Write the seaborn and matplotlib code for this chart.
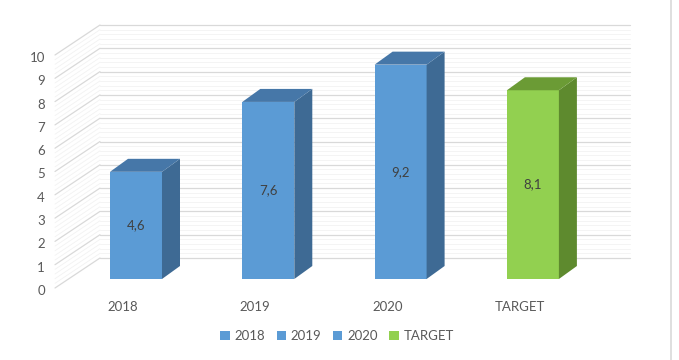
"""
plot.py - Excel-style 3D column chart (2018 / 2019 / 2020 / TARGET).
"""

import matplotlib
matplotlib.use("Agg")
import matplotlib.pyplot as plt
from matplotlib.patches import Polygon, Patch
from matplotlib.lines import Line2D
import numpy as np
import pandas as pd
import seaborn as sns

categories = ["2018", "2019", "2020", "TARGET"]
values = [4.6, 7.6, 9.2, 8.1]
value_labels = ["4,6", "7,6", "9,2", "8,1"]
y_ticks = list(range(0, 11))

FRONT = {"2018": "#5B9BD5", "2019": "#5B9BD5", "2020": "#5B9BD5", "TARGET": "#92D050"}
SIDE = {"2018": "#3E6A94", "2019": "#3E6A94", "2020": "#3E6A94", "TARGET": "#5E8A2E"}
TOP = {"2018": "#4677A8", "2019": "#4677A8", "2020": "#4677A8", "TARGET": "#6B9B35"}
GRID = "#d9d9d9"
TXT = "#595959"

sns.set_theme(style="white")
plt.rcParams["font.family"] = ["Lato", "DejaVu Sans"]

W, H, DPI = 679, 360, 100
fig = plt.figure(figsize=(W / DPI, H / DPI), dpi=DPI)
ax = fig.add_axes([0, 0, 1, 1])

# pixel scale of the bar plane
PX_X = 132.3   # px per category
PX_Y = 23.3    # px per unit
X0, Y0 = 136, 81  # px of category 0 / value 0 (from left / bottom)


def dx(px):
    return px / PX_X


def dy(px):
    return px / PX_Y


BAR_DX, BAR_DY = dx(18), dy(13)       # bar depth
FRONT_DX, FRONT_DY = dx(-13), dy(-9)  # front floor edge relative to bar plane
WALL_DX, WALL_DY = dx(32), dy(21)     # back wall relative to bar plane
WALL_L, WALL_R = dx(100 - X0), dx(630 - X0)

# gridlines: minor + major, back wall and left side wall
for v in np.arange(0, 10.01, 0.2):
    major = abs(v - round(v)) < 1e-6
    c = GRID if major else "#f2f2f2"
    lw = 0.9 if major else 0.6
    ax.plot([WALL_L, WALL_R], [v + WALL_DY, v + WALL_DY], color=c, lw=lw, zorder=1)
    ax.plot([WALL_L - (WALL_DX - FRONT_DX), WALL_L],
            [v + FRONT_DY, v + WALL_DY], color=c, lw=lw, zorder=1)

for t in y_ticks:
    ax.text(WALL_L - (WALL_DX - FRONT_DX) - dx(10), t + FRONT_DY - dy(3), str(t),
            ha="right", va="center", fontsize=9.5, color=TXT)

df = pd.DataFrame({"cat": categories, "val": values})
sns.barplot(data=df, x="cat", y="val", hue="cat", palette=FRONT, width=0.393,
            dodge=False, legend=False, saturation=1, ax=ax, zorder=3)
ax.set_xlim(-X0 / PX_X, (W - X0) / PX_X)
ax.set_ylim(-Y0 / PX_Y, (H - Y0) / PX_Y)
ax.axis("off")

for bar, cat in zip(ax.patches, categories):
    x, w, h = bar.get_x(), bar.get_width(), bar.get_height()
    bar.set_edgecolor("none")
    side = Polygon([(x + w, 0), (x + w + BAR_DX, BAR_DY),
                    (x + w + BAR_DX, h + BAR_DY), (x + w, h)],
                   closed=True, fc=SIDE[cat], ec="none", zorder=3)
    top = Polygon([(x, h), (x + BAR_DX, h + BAR_DY),
                   (x + w + BAR_DX, h + BAR_DY), (x + w, h)],
                  closed=True, fc=TOP[cat], ec="none", zorder=3)
    ax.add_patch(side)
    ax.add_patch(top)

for i, (v, lab) in enumerate(zip(values, value_labels)):
    ax.text(i, v / 2, lab, ha="center", va="center", fontsize=9.5, color="#404040", zorder=5)
    ax.text(i + FRONT_DX, dy(-28), categories[i], ha="center", va="center",
            fontsize=9.5, color=TXT)

handles = [Patch(fc=FRONT[c], ec="none", label=c) for c in categories]
fig.legend(handles=handles, loc="center", bbox_to_anchor=(337 / W, 1 - 336 / H),
           ncol=4, frameon=False, fontsize=9.5, handlelength=0.7, handleheight=0.7,
           handletextpad=0.35, columnspacing=0.9, labelcolor=TXT)

fig.add_artist(Line2D([671 / W, 671 / W], [0, 1], color="#d9d9d9", lw=1.2))

fig.savefig("out.png", dpi=DPI)
